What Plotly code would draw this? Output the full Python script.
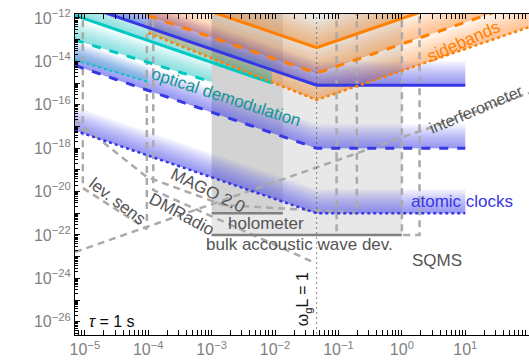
import numpy as np
import plotly.graph_objects as go

# ---------------------------------------------------------------------------
# Axis extent (log10 of frequency [GHz] and strain)
X_LOG_RANGE = [-5.155, 2.005]
Y_LOG_RANGE = [-26.61, -11.82]

# omega_g L = 1
F_L = 10 ** -1.345

# ---- sidebands (orange): vertices (frequency, strain)
sb_freq = [1e-4, F_L, 1e2]
sb_solid = [10 ** -10.72, 10 ** -13.37, 10 ** -10.03]
sb_dashed = [10 ** -11.90, 10 ** -14.55, 10 ** -11.20]
sb_dotted = [10 ** -12.70, 10 ** -15.78, 10 ** -12.43]

# ---- atomic clocks (blue)
ac_freq = [7e-6, F_L, 1e1]
ac_solid = [10 ** -11.29, 10 ** -15.10, 10 ** -15.10]
ac_dashed = [10 ** -14.19, 10 ** -18.00, 10 ** -18.00]
ac_dotted = [10 ** -17.19, 10 ** -21.00, 10 ** -21.00]

# ---- optical demodulation (cyan)
od_solid_freq = [7e-6, 10 ** -2.05]
od_solid = [10 ** -11.89, 10 ** -15.00]
od_dashed_freq = [7e-6, 1e-3]
od_dashed = [10 ** -13.02, 10 ** -14.95]
od_dotted_freq = [7e-6, 1e-4]
od_dotted = [10 ** -13.94, 10 ** -14.95]

# ---- existing / proposed experiments (gray)
TOP = 1e-11
lev_freq = [9.3e-6, 9.3e-6, 9.5e-5, 9.5e-5]
lev_h = [TOP, 10 ** -19.84, 10 ** -21.73, TOP]

ifo_freq = [7e-6, 101.0]
ifo_h = [10 ** -22.79, 10 ** -15.46]

mago_freq = [7e-6, 9.5e-5, 10 ** -2.82, 10 ** -0.71, 10 ** -0.71]
mago_h = [10 ** -16.70, 10 ** -19.33, 10 ** -20.62, 10 ** -20.98, TOP]

dmr_freq = [1.2e-4, 1.2e-4, 10 ** -1.36]
dmr_h = [TOP, 10 ** -19.93, 10 ** -23.30]

vert_freq = [10 ** -1.03, 10 ** -1.03]
vert_h = [TOP, 10 ** -21.92]

sqms_freq = [1.0, 1.0, 1.9, 1.9]
sqms_h = [TOP, 1e-22, 1e-22, TOP]

holo_freq = [1e-3, 1.33e-2]
holo_h = 1e-21
baw_freq = [1e-3, 1.0]
baw_h = 1e-22

# ---------------------------------------------------------------------------
ORANGE = (255, 127, 0)
BLUE = (55, 55, 230)
CYAN = (0, 200, 195)
GRAY_DASH = "rgb(170,170,170)"

fig = go.Figure()


def rgba(c, a):
    return f"rgba({c[0]},{c[1]},{c[2]},{a:.4f})"


def add_band(freq, h, color, depth, layers=12, amax=0.5):
    """Soft glow above a sensitivity curve, built from stacked translucent fills."""
    a = 1 - (1 - amax) ** (1 / layers)
    for k in range(1, layers + 1):
        d = depth * k / layers
        xs = list(freq) + list(freq)[::-1]
        ys = [v * 10 ** d for v in h] + list(h)[::-1]
        fig.add_trace(go.Scatter(x=xs, y=ys, mode="lines", fill="toself",
                                 fillcolor=rgba(color, a), line=dict(width=0),
                                 hoverinfo="skip", showlegend=False))


def add_rect(f0, f1, h0, h1, color):
    fig.add_trace(go.Scatter(x=[f0, f1, f1, f0, f0], y=[h0, h0, h1, h1, h0],
                             mode="lines", fill="toself", fillcolor=color,
                             line=dict(width=0), hoverinfo="skip", showlegend=False))


def add_line(freq, h, color, width=3, dash="solid"):
    fig.add_trace(go.Scatter(x=freq, y=h, mode="lines",
                             line=dict(color=color, width=width, dash=dash),
                             hoverinfo="skip", showlegend=False))


# gray experiment regions
add_rect(baw_freq[0], baw_freq[1], baw_h, TOP, "rgba(0,0,0,0.09)")
add_rect(holo_freq[0], holo_freq[1], holo_h, TOP, "rgba(0,0,0,0.09)")

# glow bands
for hh in (sb_solid, sb_dashed, sb_dotted):
    add_band(sb_freq, hh, ORANGE, 1.3, amax=0.42)
for hh in (ac_solid, ac_dashed, ac_dotted):
    add_band(ac_freq, hh, BLUE, 1.1, amax=0.5)
add_band(od_solid_freq, od_solid, CYAN, 1.0, amax=0.45)
add_band(od_dashed_freq, od_dashed, CYAN, 1.0, amax=0.45)
add_band(od_dotted_freq, od_dotted, CYAN, 0.8, amax=0.3)

# gray experiment curves
for fx, hy in ((lev_freq, lev_h), (ifo_freq, ifo_h), (mago_freq, mago_h),
               (dmr_freq, dmr_h), (vert_freq, vert_h), (sqms_freq, sqms_h)):
    add_line(fx, hy, GRAY_DASH, width=2.5, dash="7px,5px")
add_line(holo_freq, [holo_h, holo_h], "rgb(128,128,128)", width=2.5)
add_line(baw_freq, [baw_h, baw_h], "rgb(128,128,128)", width=2.5)

# omega_g L = 1 marker
add_line([F_L, F_L], [10 ** -27, TOP], "rgb(60,60,60)", width=1.2, dash="1px,4px")

# sensitivity curves
add_line(od_solid_freq, od_solid, rgba(CYAN, 1), 3)
add_line(od_dashed_freq, od_dashed, rgba(CYAN, 1), 3, "dash")
add_line(od_dotted_freq, od_dotted, rgba(CYAN, 1), 2, "dot")
add_line(ac_freq, ac_solid, rgba(BLUE, 1), 3)
add_line(ac_freq, ac_dashed, rgba(BLUE, 1), 3, "dash")
add_line(ac_freq, ac_dotted, rgba(BLUE, 1), 2.5, "dot")
add_line(sb_freq, sb_solid, rgba(ORANGE, 1), 3)
add_line(sb_freq, sb_dashed, rgba(ORANGE, 1), 3, "dash")
add_line(sb_freq, sb_dotted, rgba(ORANGE, 1), 2.5, "dot")

# ---------------------------------------------------------------------------
FONT = "Liberation Sans, Arial, sans-serif"


def px_x(xl):
    return (xl - X_LOG_RANGE[0]) / (X_LOG_RANGE[1] - X_LOG_RANGE[0])


def px_y(yl):
    return (yl - Y_LOG_RANGE[0]) / (Y_LOG_RANGE[1] - Y_LOG_RANGE[0])


def label(text, xl, yl, color, angle=0, size=17):
    fig.add_annotation(x=px_x(xl), y=px_y(yl), xref="paper", yref="paper",
                       text=text, showarrow=False, textangle=angle,
                       font=dict(family=FONT, size=size, color=color),
                       xanchor="center", yanchor="middle")


GRAY_TXT = "rgb(85,85,85)"
label("optical demodulation", -2.77, -15.69, "rgb(20,150,145)", 18)
label("sidebands", 0.98, -13.1, "rgb(255,127,0)", -24)
label("interferometer", 1.17, -16.2, GRAY_TXT, -23, 16)
label("atomic clocks", 0.95, -20.48, "rgb(55,55,230)", 0)
label("MAGO 2.0", -3.06, -19.93, GRAY_TXT, 26)
label("DMRadio", -3.47, -21.08, GRAY_TXT, 28)
label("lev. sens", -4.49, -20.48, GRAY_TXT, 37)
label("holometer", -2.14, -21.45, GRAY_TXT, 0)
label("bulk accoustic wave dev.", -1.61, -22.46, GRAY_TXT, 0)
label("SQMS", 0.555, -23.2, GRAY_TXT, 0)
label("ω<sub>g</sub>L = 1", -1.54, -24.95, "rgb(20,20,20)", -90, 16)
label("<i>τ</i> = 1 s", -4.57, -25.97, "rgb(10,10,10)", 0, 16)

# ---------------------------------------------------------------------------
x_major = [10.0 ** k for k in range(-5, 3)]
x_text = [f"10<sup>{str(k).replace('-', '−')}</sup>" for k in range(-5, 3)]
x_minor = [m * 10.0 ** k for k in range(-6, 3) for m in range(2, 10)]
y_major = [10.0 ** k for k in range(-26, -11, 2)]
y_text = [f"10<sup>{str(k).replace('-', '−')}</sup>" for k in range(-26, -11, 2)]
y_odd = [10.0 ** k for k in range(-27, -11, 2)]
y_minor = [m * 10.0 ** k for k in range(-27, -11) for m in range(2, 10)]

tickfont = dict(family=FONT, size=16, color="rgb(128,128,128)")
fig.update_xaxes(type="log", range=X_LOG_RANGE, showgrid=False, zeroline=False,
                 showline=True, linecolor="black", linewidth=1.2, mirror="allticks",
                 ticks="inside", ticklen=5, tickwidth=1.2, tickcolor="black",
                 tickvals=x_major, ticktext=x_text, tickfont=tickfont,
                 minor=dict(tickvals=x_minor, ticks="inside", ticklen=3,
                            tickwidth=1, tickcolor="black", showgrid=False))
fig.update_yaxes(type="log", range=Y_LOG_RANGE, showgrid=False, zeroline=False,
                 showline=True, linecolor="black", linewidth=1.2,
                 ticks="inside", ticklen=5, tickwidth=1.2, tickcolor="black",
                 tickvals=y_major, ticktext=y_text, tickfont=tickfont,
                 minor=dict(tickvals=y_minor, ticks="inside", ticklen=3,
                            tickwidth=1, tickcolor="black", showgrid=False))

# unlabelled decade ticks between the labelled ones
fig.add_trace(go.Scatter(x=[1e-3], y=[1e-20], yaxis="y2", mode="markers",
                         marker=dict(opacity=0), hoverinfo="skip", showlegend=False))
fig.update_layout(yaxis2=dict(type="log", range=Y_LOG_RANGE, overlaying="y", side="left",
                              showgrid=False, zeroline=False, showline=False,
                              ticks="inside", ticklen=5, tickwidth=1.2, tickcolor="black",
                              tickvals=y_odd, showticklabels=False))

fig.update_layout(width=529, height=362, margin=dict(l=75, r=0, t=14, b=27),
                  paper_bgcolor="white", plot_bgcolor="white", showlegend=False)

fig.write_html("out.html")
